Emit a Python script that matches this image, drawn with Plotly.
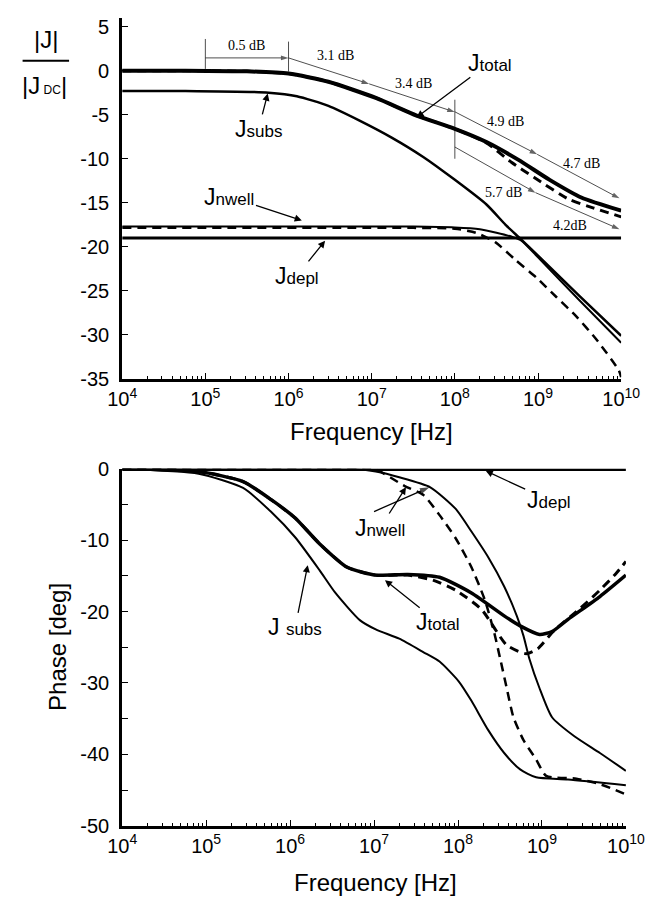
import plotly.graph_objects as go

W, H = 662, 912

# ---------------- data (log10 of frequency in Hz) -------------
# Top: magnitude |J|/|Jdc| in dB
mag_total_lg = [4, 4.76, 5.5, 6.0, 6.48, 7.05, 7.54, 8.0, 8.38, 8.76, 9.14, 9.52, 10]
mag_total_db = [0, 0, -0.08, -0.33, -1.26, -3.1, -5.1, -6.6, -8.1, -10.1, -12.4, -14.4, -15.9]

mag_total_d_lg = [4, 4.76, 5.5, 6.0, 6.48, 7.05, 7.54, 8.0, 8.38, 8.68, 8.95, 9.37, 9.67, 10]
mag_total_d_db = [0, 0, -0.08, -0.33, -1.26, -3.1, -5.1, -6.6, -8.2, -10.4, -12.1, -14.6, -15.6, -16.6]

mag_subs_lg = [4, 4.76, 5.76, 6.1, 6.48, 6.86, 7.24, 7.62, 8.0, 8.38, 8.61, 8.79, 9.0, 9.5, 10]
mag_subs_db = [-2.3, -2.3, -2.5, -2.9, -4.0, -5.7, -7.6, -9.8, -12.4, -15.2, -17.5, -19.1, -21.0, -25.6, -30.1]

mag_nwell_lg = [4, 7.5, 8.0, 8.3, 8.5, 8.7, 8.8, 9.0, 9.5, 10]
mag_nwell_db = [-17.7, -17.7, -17.8, -18.0, -18.4, -18.9, -19.3, -21.2, -26.1, -30.9]

mag_nwell_d_lg = [4, 7.5, 8.0, 8.25, 8.49, 8.73, 8.98, 9.22, 9.46, 9.70, 9.97, 10]
mag_nwell_d_db = [-17.85, -17.85, -17.95, -18.4, -19.5, -21.5, -23.5, -25.7, -27.9, -30.5, -34.0, -34.8]

mag_depl_lg = [4, 10]
mag_depl_db = [-19.0, -19.0]

# Bottom: phase in degrees
ph_total_lg = [4, 4.91, 5.44, 5.77, 6.06, 6.35, 6.68, 7.02, 7.40, 7.78, 8.16, 8.55, 8.74, 8.97, 9.12, 9.31, 9.69, 10]
ph_total_deg = [0, -0.4, -1.8, -4.3, -6.9, -10.5, -13.8, -14.9, -14.8, -15.2, -17.4, -20.6, -22.0, -23.2, -22.8, -21.1, -17.9, -14.9]

ph_total_d_lg = [4, 4.91, 5.44, 5.77, 6.06, 6.35, 6.68, 7.02, 7.40, 7.70, 7.97, 8.28, 8.58, 8.81, 8.95, 9.14, 9.46, 9.69, 9.88, 10]
ph_total_d_deg = [0, -0.4, -1.8, -4.3, -6.9, -10.5, -13.8, -14.9, -14.9, -15.6, -17.0, -19.7, -24.7, -25.9, -25.2, -22.7, -19.5, -17.0, -14.7, -13.0]

ph_subs_lg = [4, 4.91, 5.44, 5.77, 6.06, 6.35, 6.54, 6.83, 7.02, 7.3, 7.59, 7.78, 8.01, 8.16, 8.36, 8.55, 8.74, 8.93, 9.31, 10]
ph_subs_deg = [0, -0.7, -2.7, -6.0, -9.6, -14.2, -17.4, -21.2, -22.5, -23.8, -25.7, -27.0, -29.8, -32.5, -36.6, -39.8, -42.1, -43.2, -43.5, -44.3]

ph_nwell_lg = [4, 6.8, 7.02, 7.3, 7.67, 7.97, 8.16, 8.36, 8.55, 8.70, 8.78, 8.85, 8.97, 9.12, 9.39, 9.69, 10]
ph_nwell_deg = [0, -0.05, -0.4, -1.2, -2.6, -5.6, -8.8, -12.4, -16.5, -20.6, -23.4, -26.6, -30.7, -34.8, -37.5, -39.8, -42.3]

ph_nwell_d_lg = [4, 6.5, 6.92, 7.02, 7.36, 7.59, 7.78, 7.97, 8.16, 8.32, 8.43, 8.51, 8.58, 8.66, 8.78, 8.93, 9.05, 9.41, 9.7, 10]
ph_nwell_d_deg = [0, 0, -0.05, -0.1, -2.4, -3.7, -6.5, -9.7, -13.8, -18.4, -22.9, -27.0, -30.7, -34.8, -38.0, -40.7, -43.0, -43.4, -44.2, -45.6]

ph_depl_lg = [4, 10]
ph_depl_deg = [0, 0]

# tick labels
x_tickvals_exp = [4, 5, 6, 7, 8, 9, 10]
mag_ticks = [5, 0, -5, -10, -15, -20, -25, -30, -35]
ph_ticks = [0, -10, -20, -30, -40, -50]

# dB slope annotations: (text, log f, dB)
db_labels = [("0.5 dB", 5.5, 2.9), ("3.1 dB", 6.57, 1.7), ("3.4 dB", 7.5, -1.45),
             ("4.9 dB", 8.61, -5.8), ("4.7 dB", 9.52, -10.5), ("5.7 dB", 8.59, -13.85),
             ("4.2dB", 9.38, -17.6)]
# dimension segments: (x0, y0, x1, y1)
db_plain_segments = [(5, 0.2, 5, 3.6), (6, -0.1, 6, 3.3), (8, -3.3, 8, -10.0)]
db_arrow_segments = [(5, 1.45, 6, 1.45), (6, 1.45, 6.97, -1.5), (6.97, -1.5, 8, -4.7),
                     (8, -4.67, 8.99, -9.5), (8.99, -9.5, 9.98, -14.5),
                     (8, -8.67, 8.97, -13.85), (8.97, -13.85, 9.98, -18.0)]

# curve labels: (name, sub, text x, text y, tip x, tip y, axis)
curve_labels = [("J", "total", 8.42, 0.9, 7.54, -5.3, 1),
                ("J", "subs", 5.64, -6.6, 5.75, -2.6, 1),
                ("J", "nwell", 5.29, -14.3, 6.16, -17.0, 1),
                ("J", "depl", 6.1, -23.3, 6.44, -19.3, 1),
                ("J", "depl", 9.08, -4.4, 8.33, -0.3, 2),
                ("J", "nwell", 7.07, -8.3, 7.38, -2.6, 2),
                ("J", "total", 7.76, -21.5, 7.13, -15.6, 2),
                ("J ", "subs", 6.06, -22.2, 6.21, -13.5, 2)]
extra_arrows = [(7.0, -6.0, 7.66, -2.6)]  # second Jnwell arrow (tail -> tip), bottom plot

# ---------------- figure ----------------
def hz(lg):
    return [10 ** v for v in lg]

fig = go.Figure()

def add(lg, vals, ax, width, dash="solid", color="black", smooth=True, head=0):
    line = dict(color=color, width=width, dash=dash)
    if smooth:
        line.update(shape="spline", smoothing=0.6)
    tr = dict(x=hz(lg), y=vals, mode="lines",
              xaxis="x" if ax == 1 else "x2", yaxis="y" if ax == 1 else "y2",
              line=line, showlegend=False, hoverinfo="skip")
    if head:
        tr["mode"] = "lines+markers"
        tr["marker"] = dict(symbol="arrow", size=[0] * (len(lg) - 1) + [head], angleref="previous",
                            color=color, line=dict(width=0))
    fig.add_trace(go.Scatter(**tr))

for x0, y0, x1, y1 in db_plain_segments:
    add([x0, x1], [y0, y1], 1, 0.8, color="#222", smooth=False)
for x0, y0, x1, y1 in db_arrow_segments:
    add([x0, x1], [y0, y1], 1, 0.8, color="#222", smooth=False, head=8)
for x0, y0, x1, y1 in extra_arrows:
    add([x0, x1], [y0, y1], 2, 1.3, smooth=False, head=10)

DASH = "9px,6px"
add(mag_depl_lg, mag_depl_db, 1, 3)
add(mag_nwell_lg, mag_nwell_db, 1, 2)
add(mag_nwell_d_lg, mag_nwell_d_db, 1, 2.5, DASH)
add(mag_subs_lg, mag_subs_db, 1, 2.5)
add(mag_total_d_lg, mag_total_d_db, 1, 3, DASH)
add(mag_total_lg, mag_total_db, 1, 4)

add(ph_depl_lg, ph_depl_deg, 2, 4.5)
add(ph_subs_lg, ph_subs_deg, 2, 2)
add(ph_nwell_lg, ph_nwell_deg, 2, 2)
add(ph_nwell_d_lg, ph_nwell_d_deg, 2, 2.5, DASH)
add(ph_total_d_lg, ph_total_d_deg, 2, 3, DASH)
add(ph_total_lg, ph_total_deg, 2, 3.5)

FONT = "Liberation Sans, Arial, sans-serif"
minor_vals = [m * 10 ** e for e in range(4, 10) for m in range(2, 10)]

def xax(dom, anchor, labels=True, overlay=None, side="bottom", color="black", lw=3):
    d = dict(domain=dom, type="log", range=[4, 10], anchor=anchor, side=side,
             showgrid=False, zeroline=False, showline=True, linecolor=color, linewidth=lw,
             ticks="inside", ticklen=6, tickwidth=1, tickcolor="black",
             tickvals=[10 ** e for e in x_tickvals_exp],
             ticktext=["10<sup>%d</sup>" % e for e in x_tickvals_exp],
             showticklabels=labels, tickfont=dict(family=FONT, size=20, color="black"),
             minor=dict(tickvals=minor_vals, ticks="inside", ticklen=3, tickcolor="black", showgrid=False))
    if overlay:
        d["overlaying"] = overlay
        d["layer"] = "below traces"
    return d

def yax(dom, anchor, rng, ticks, labels=True, overlay=None, side="left", color="black", lw=3, minor5=False):
    d = dict(domain=dom, range=rng, anchor=anchor, side=side,
             showgrid=False, zeroline=False, showline=True, linecolor=color, linewidth=lw,
             ticks="inside", ticklen=6, tickwidth=1, tickcolor="black",
             tickvals=ticks, ticktext=[str(t) for t in ticks],
             showticklabels=labels, tickfont=dict(family=FONT, size=20, color="black"),
             ticklabelstandoff=6)
    if minor5:
        d["minor"] = dict(dtick=5, ticks="inside", ticklen=6, tickcolor="black", showgrid=False)
    if overlay:
        d["overlaying"] = overlay
        d["layer"] = "below traces"
    return d

def px(x):
    return x / W

def py(y):
    return 1 - y / H

top_x = [px(113), px(639)]
bot_x = [px(113), px(644)]
top_y = [py(377), py(7)]
bot_y = [py(835), py(469)]
MAG_RANGE = [-35, 6]

fig.update_layout(
    width=W, height=H, margin=dict(l=0, r=0, t=0, b=0),
    paper_bgcolor="white", plot_bgcolor="rgba(0,0,0,0)", showlegend=False,
    xaxis=xax(top_x, "y"),
    yaxis=yax(top_y, "x", MAG_RANGE, mag_ticks),
    xaxis2=xax(bot_x, "y2"),
    yaxis2=yax(bot_y, "x2", [-50, 0], ph_ticks, minor5=True),
    xaxis3=xax(top_x, "y", labels=False, overlay="x", side="top", color="#999", lw=1.5),
    yaxis3=yax(top_y, "x", MAG_RANGE, mag_ticks, labels=False, overlay="y", side="right", color="#999", lw=1.5),
    xaxis4=xax(bot_x, "y2", labels=False, overlay="x2", side="top", color="#999", lw=1.5),
    yaxis4=yax(bot_y, "x2", [-50, 0], ph_ticks, labels=False, overlay="y2", side="right", color="#999", lw=1.5, minor5=True),
)

ann = []
for t, x, y in db_labels:
    ann.append(dict(text=t, x=x, y=y, xref="x", yref="y", showarrow=False,
                    font=dict(family="Liberation Serif, Times New Roman, serif", size=14, color="black")))
for j, sub, tx, ty, tipx, tipy, a in curve_labels:
    xr, yr = ("x", "y") if a == 1 else ("x2", "y2")
    ann.append(dict(text="%s<span style='font-size:17px'>%s</span>" % (j, sub),
                    x=tipx, y=tipy, ax=tx, ay=ty, xref=xr, yref=yr, axref=xr, ayref=yr,
                    showarrow=True, arrowhead=2, arrowsize=1.1, arrowwidth=1.3, arrowcolor="black",
                    font=dict(family=FONT, size=23, color="black")))

def ptxt(text, x, y, size=24, angle=0):
    return dict(text=text, x=px(x), y=py(y), xref="paper", yref="paper",
                xanchor="center", yanchor="middle", showarrow=False, textangle=angle,
                font=dict(family=FONT, size=size, color="black"))

ann.append(ptxt("Frequency [Hz]", 376, 431))
ann.append(ptxt("Frequency [Hz]", 380, 893))
ann.append(ptxt("Phase [deg]", 45, 652, angle=-90))
ann.append(ptxt("|J|", 33, 29))
ann.append(ptxt("|J<span style='font-size:12px'> DC</span>|", 31, 76))

fig.update_layout(annotations=ann,
                  shapes=[dict(type="line", xref="paper", yref="paper", x0=px(8), x1=px(57),
                               y0=py(51), y1=py(51), line=dict(color="black", width=2))])

fig.write_html("out.html")
